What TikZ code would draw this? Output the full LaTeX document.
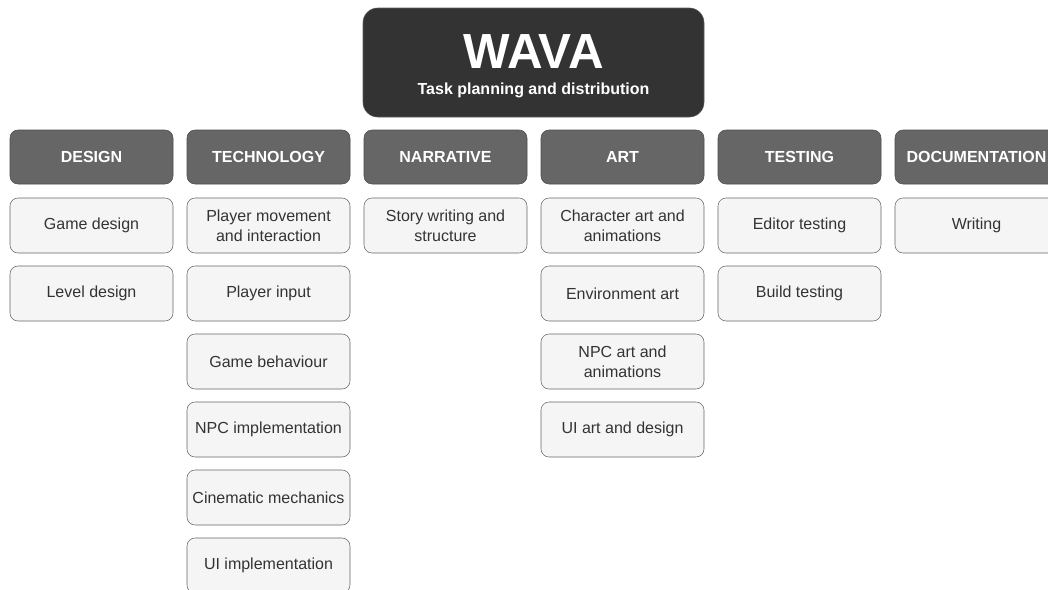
\documentclass[tikz,border=0pt]{standalone}
\usepackage{fontspec}
\setmainfont{Liberation Sans}
\definecolor{hdr}{HTML}{333333}
\definecolor{catfill}{HTML}{666666}
\definecolor{catline}{HTML}{4D4D4D}
\definecolor{taskfill}{HTML}{F5F5F5}
\definecolor{taskline}{HTML}{666666}
\definecolor{tasktext}{HTML}{333333}
\begin{document}
\begin{tikzpicture}[x=0.75pt,y=-0.75pt,
  cat/.style={draw=catline,fill=catfill,rounded corners=6pt,minimum width=122.25pt,minimum height=40.5pt,inner sep=0pt,text=white,font=\fontsize{12}{14}\selectfont\bfseries},
  task/.style={draw=taskline,fill=taskfill,rounded corners=6pt,minimum width=122.25pt,minimum height=41.25pt,inner sep=0pt,text=tasktext,align=center,font=\fontsize{12}{15}\selectfont},
  hdrbox/.style={draw=hdr!80!white,fill=hdr,rounded corners=11pt,minimum width=255.75pt,minimum height=81.75pt,inner sep=0pt}]
\useasboundingbox (0,0) rectangle (1048,589);
\node[hdrbox] (head) at (533.5,62.5) {};
\node[text=white,font=\fontsize{37}{42}\selectfont\bfseries,inner sep=0pt] (title) at (533.5,52) {WAVA};
\node[text=white,font=\fontsize{12}{14}\selectfont\bfseries,inner sep=0pt] (sub) at (533.5,90) {Task planning and distribution};
% categories
\node[cat] (c1) at (91.5,157) {DESIGN};
\node[cat] (c2) at (268.5,157) {TECHNOLOGY};
\node[cat] (c3) at (445.5,157) {NARRATIVE};
\node[cat] (c4) at (622.5,157) {ART};
\node[cat] (c5) at (799.5,157) {TESTING};
\node[cat] (c6) at (976.5,157) {DOCUMENTATION};
% design
\node[task] (d1) at (91.5,225.5) {Game design};
\node[task] (d2) at (91.5,293.5) {Level design};
% technology
\node[task] (t1) at (268.5,225.5) {Player movement\\and interaction};
\node[task] (t2) at (268.5,293.5) {Player input};
\node[task] (t3) at (268.5,361.5) {Game behaviour};
\node[task] (t4) at (268.5,429.5) {NPC implementation};
\node[task] (t5) at (268.5,497.5) {Cinematic mechanics};
\node[task] (t6) at (268.5,565.5) {UI implementation};
% narrative
\node[task] (n1) at (445.5,225.5) {Story writing and\\structure};
% art
\node[task] (a1) at (622.5,225.5) {Character art and\\animations};
\node[task] (a2) at (622.5,293.5) {Environment art};
\node[task] (a3) at (622.5,361.5) {NPC art and\\animations};
\node[task] (a4) at (622.5,429.5) {UI art and design};
% testing
\node[task] (e1) at (799.5,225.5) {Editor testing};
\node[task] (e2) at (799.5,293.5) {Build testing};
% documentation
\node[task] (w1) at (976.5,225.5) {Writing};
\end{tikzpicture}
\end{document}
